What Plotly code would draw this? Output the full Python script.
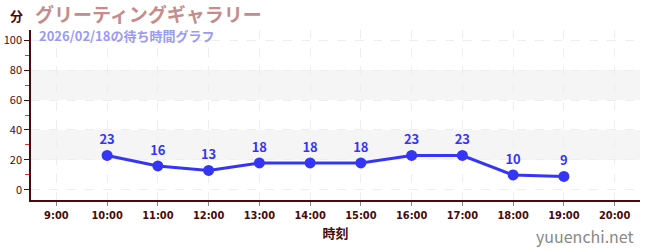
import plotly.graph_objects as go

# Wait times by hour
hours = [10, 11, 12, 13, 14, 15, 16, 17, 18, 19]
waits = [23, 16, 13, 18, 18, 18, 23, 23, 10, 9]
tick_hours = list(range(9, 21))
tick_labels = [f"{h}:00" for h in tick_hours]
y_ticks = [0, 20, 40, 60, 80, 100]

title_text = "グリーティングギャラリー"
subtitle_text = "2026/02/18の待ち時間グラフ"

axis_color = "#4a0a0a"
line_color = "#3535f5"
font_family = "Noto Sans CJK JP, Noto Sans, sans-serif"

fig = go.Figure()

fig.add_trace(go.Scatter(
    x=hours, y=waits,
    mode="lines+markers+text",
    line=dict(color=line_color, width=3),
    marker=dict(color=line_color, size=11),
    text=[str(v) for v in waits],
    textposition="top center",
    textfont=dict(color=line_color, size=13, family=font_family, weight="bold"),
    cliponaxis=False,
    hoverinfo="skip",
))

# light alternating bands
for y0, y1 in [(20, 40), (60, 80)]:
    fig.add_shape(type="rect", xref="paper", yref="y", x0=0, x1=1, y0=y0, y1=y1,
                  fillcolor="#f5f5f5", line=dict(width=0), layer="below")

fig.update_layout(
    width=650, height=250,
    margin=dict(l=31, r=10, t=30, b=50),
    paper_bgcolor="white", plot_bgcolor="white",
    showlegend=False,
    font=dict(family=font_family, color=axis_color),
)

fig.update_xaxes(
    automargin=False,
    range=[8.5, 20.5],
    tickmode="array", tickvals=tick_hours, ticktext=tick_labels,
    tickfont=dict(size=11, color=axis_color, family="DejaVu Sans Condensed", weight="bold"),
    ticks="outside", ticklen=4, tickcolor="#888888",
    showline=True, linecolor=axis_color, linewidth=1.5,
    showgrid=True, gridcolor="#eeeeee", griddash="dash", gridwidth=1,
    zeroline=False,
    title=dict(text="時刻", font=dict(size=13, color=axis_color, weight="bold"), standoff=8),
)

fig.update_yaxes(
    automargin=False,
    range=[-6.7, 106.7],
    tickmode="array", tickvals=y_ticks,
    tickfont=dict(size=11, color=axis_color),
    ticks="outside", ticklen=5, tickcolor=axis_color,
    minor=dict(tickvals=[10, 30, 50, 70, 90], ticks="outside", ticklen=4,
               tickcolor="#e03030", showgrid=False),
    showline=True, linecolor=axis_color, linewidth=1.5,
    showgrid=True, gridcolor="#eeeeee", griddash="dash", gridwidth=1,
    zeroline=False,
)

fig.add_annotation(text="分", xref="paper", yref="paper", x=-0.01, y=1.0,
                   xanchor="right", yanchor="bottom", yshift=3, showarrow=False,
                   font=dict(size=13, color=axis_color, family=font_family, weight="bold"))
fig.add_annotation(text=title_text, xref="paper", yref="paper", x=0.0, y=1.0,
                   xanchor="left", yanchor="bottom", xshift=2, yshift=1, showarrow=False,
                   font=dict(size=19, color="#c48c8c", family=font_family, weight="bold"))
fig.add_annotation(text=subtitle_text, xref="paper", yref="paper", x=0.0, y=1.0,
                   xanchor="left", yanchor="top", xshift=6, yshift=6, showarrow=False,
                   font=dict(size=13, color="#9a9af5", family=font_family, weight="bold"))
fig.add_annotation(text="yuuenchi.net", xref="paper", yref="paper", x=1.0, y=0,
                   xanchor="right", yanchor="top", yshift=-22, xshift=-4, showarrow=False,
                   font=dict(size=16, color="#888888", family=font_family))

fig.write_html("out.html")
